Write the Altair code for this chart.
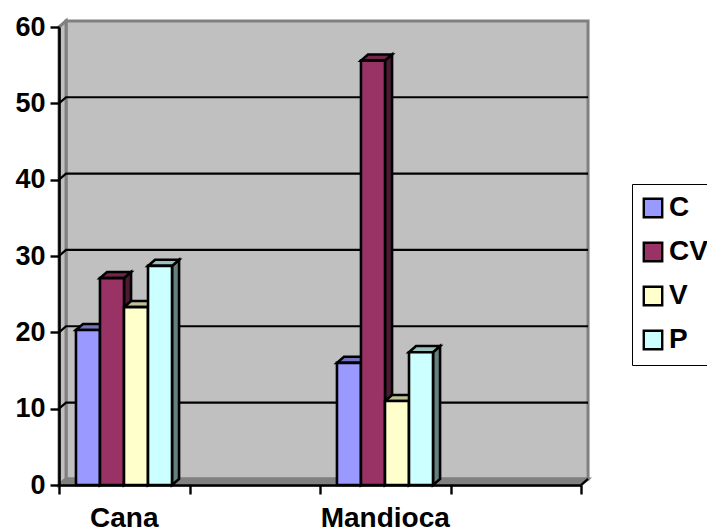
import altair as alt
import pandas as pd

# Crop survey values per series
categories = ["Cana", "", "Mandioca", ""]
series = ["C", "CV", "V", "P"]
colors = ["#9999FF", "#993366", "#FFFFCC", "#CCFFFF"]
tops = ["#7373BF", "#732649", "#BFBF99", "#99BFBF"]
sides = ["#4D4D80", "#4D1933", "#808066", "#668080"]
cana = [20.3, 27.1, 23.3, 28.7]
mandioca = [16.0, 55.6, 11.0, 17.4]
y_ticks = [0, 10, 20, 30, 40, 50, 60]

FONT = "Liberation Sans"
X_MAX = len(categories)
DX = 0.054   # oblique depth along x, in category units
DY = 0.80    # oblique depth along y, in value units
BAR_W = 0.184
GROUP_START = 0.13


def polygon(rows, name, pts, fill, stroke):
    for i, (px, py) in enumerate(pts):
        rows.append({"face": name, "v": i, "px": px, "py": py,
                     "fill": fill, "stroke": stroke})


walls = []
polygon(walls, "back", [(DX, DY), (X_MAX + DX, DY), (X_MAX + DX, 60 + DY), (DX, 60 + DY)],
        "#C0C0C0", "#808080")
polygon(walls, "left", [(0, 0), (DX, DY), (DX, 60 + DY), (0, 60)], "#C0C0C0", "#808080")
polygon(walls, "floor", [(0, 0), (DX, DY), (X_MAX + DX, DY), (X_MAX, 0)], "#808080", "#808080")

grid = []
for level in y_ticks[1:-1]:
    for i, (px, py) in enumerate([(0, level), (DX, level + DY), (X_MAX + DX, level + DY)]):
        grid.append({"level": level, "v": i, "px": px, "py": py})
# Short slanted edge at the far end of the floor
for i, (px, py) in enumerate([(X_MAX, 0), (X_MAX + DX, DY)]):
    grid.append({"level": 0, "v": i, "px": px, "py": py})

faces = []
front = []
for c_idx, vals in ((0, cana), (2, mandioca)):
    for s_idx, val in enumerate(vals):
        x0 = c_idx + GROUP_START + s_idx * BAR_W
        x1 = x0 + BAR_W
        name = f"{c_idx}-{s_idx}"
        polygon(faces, name + "-side", [(x1, 0), (x1 + DX, DY), (x1 + DX, val + DY), (x1, val)],
                sides[s_idx], "#000000")
        polygon(faces, name + "-top", [(x0, val), (x1, val), (x1 + DX, val + DY), (x0 + DX, val + DY)],
                tops[s_idx], "#000000")
        front.append({"series": series[s_idx], "x0": x0, "x1": x1, "val": val})

x_scale = alt.Scale(domain=[0, X_MAX], nice=False, zero=False)
y_scale = alt.Scale(domain=[0, 60], nice=False)

# Shared axis definitions so that every layer merges into one pair of axes
x_axis = alt.Axis(
    values=list(range(X_MAX + 1)), labels=False, title=None, grid=False,
    domainColor="#000000", domainWidth=2.6, tickColor="#000000", tickWidth=2.4,
    tickSize=9, zindex=1,
)
y_axis = alt.Axis(
    values=y_ticks, title=None, grid=False, domainColor="#000000", domainWidth=2.6,
    tickColor="#000000", tickWidth=2.4, tickSize=9, labelPadding=5, labelFont=FONT,
    labelFontWeight="bold", labelFontSize=27, labelColor="#000000", zindex=1,
)


def faces_layer(rows, width):
    return alt.Chart(pd.DataFrame(rows)).mark_line(
        interpolate="linear-closed", strokeWidth=width, strokeJoin="miter"
    ).encode(
        x=alt.X("px:Q", scale=x_scale, axis=x_axis),
        y=alt.Y("py:Q", scale=y_scale, axis=y_axis),
        detail="face:N",
        order="v:Q",
        fill=alt.Fill("fill:N", scale=None),
        stroke=alt.Stroke("stroke:N", scale=None),
    )


wall_layer = faces_layer(walls, 3)
bar_faces = faces_layer(faces, 2.6)

grid_layer = alt.Chart(pd.DataFrame(grid)).mark_line(color="#000000", strokeWidth=2.2).encode(
    x=alt.X("px:Q", scale=x_scale, axis=x_axis),
    y=alt.Y("py:Q", scale=y_scale, axis=y_axis),
    detail="level:N",
    order="v:Q",
)

front_layer = alt.Chart(pd.DataFrame(front)).mark_bar(stroke="#000000", strokeWidth=2.6).encode(
    x=alt.X("x0:Q", scale=x_scale, axis=x_axis),
    x2="x1:Q",
    y=alt.Y("val:Q", scale=y_scale, axis=y_axis),
    y2=alt.Y2(datum=0),
    color=alt.Color(
        "series:N",
        sort=series,
        scale=alt.Scale(domain=series, range=colors),
        legend=alt.Legend(
            title=None,
            orient="none",
            legendX=573,
            legendY=157,
            symbolType="square",
            symbolSize=340,
            symbolOffset=-3,
            symbolStrokeColor="#000000",
            symbolStrokeWidth=2.4,
            symbolOpacity=1,
            labelFont=FONT,
            labelFontWeight="bold",
            labelFontSize=28,
            labelColor="#000000",
            labelOffset=2,
            labelLimit=200,
            rowPadding=14,
            strokeColor="#000000",
            fillColor="#FFFFFF",
            padding=10,
            cornerRadius=0,
        ),
    ),
)

cat_df = pd.DataFrame({"name": categories, "pos": [i + 0.5 for i in range(X_MAX)]})
cat_df = cat_df[cat_df["name"] != ""]
labels_layer = alt.Chart(cat_df).mark_text(
    font=FONT, fontWeight="bold", fontSize=28, color="#000000", baseline="alphabetic"
).encode(
    x=alt.X("pos:Q", scale=x_scale, axis=x_axis),
    y=alt.value(500),
    text="name:N",
)

chart = alt.layer(
    wall_layer, grid_layer, bar_faces, front_layer, labels_layer
).resolve_scale(
    fill="independent", stroke="independent", color="independent"
).properties(
    width=522,
    height=458,
    autosize=alt.AutoSizeParams(type="none"),
    padding={"left": 59, "top": 27, "right": 126, "bottom": 44},
    background="#FFFFFF",
).configure_view(stroke=None)

chart.save("out.html", embed_options={"renderer": "svg", "actions": False})
